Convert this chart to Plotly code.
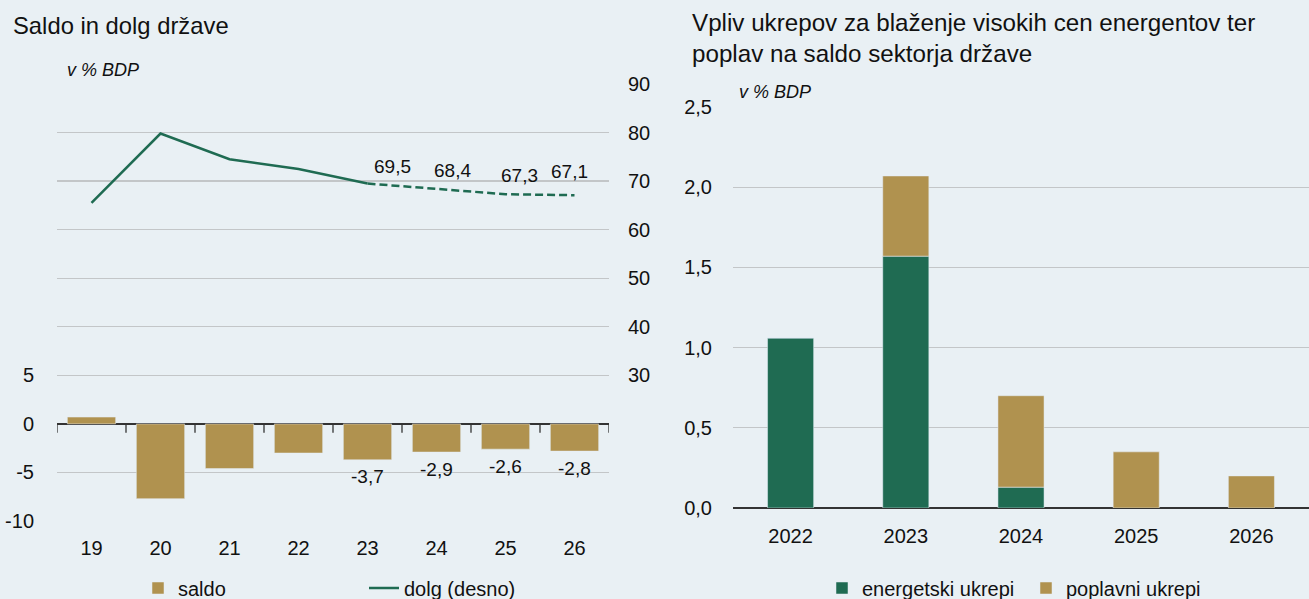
import plotly.graph_objects as go

# ---- data: left chart ----
years_l = ["19", "20", "21", "22", "23", "24", "25", "26"]
saldo = [0.7, -7.7, -4.6, -3.0, -3.7, -2.9, -2.6, -2.8]
dolg = [65.5, 79.8, 74.5, 72.5, 69.5, 68.4, 67.3, 67.1]
saldo_labels = {"23": "-3,7", "24": "-2,9", "25": "-2,6", "26": "-2,8"}
dolg_labels = {"23": "69,5", "24": "68,4", "25": "67,3", "26": "67,1"}

# ---- data: right chart ----
years_r = ["2022", "2023", "2024", "2025", "2026"]
energetski = [1.06, 1.57, 0.13, 0.0, 0.0]
poplavni = [0.0, 0.50, 0.57, 0.35, 0.20]

GREEN = "#1f6b52"
GOLD = "#b0924f"
BG = "#e9f0f4"
GRID = "#c3c6c8"
AXIS = "#333333"
FONT = "Liberation Sans, Arial, sans-serif"
W, H = 1309, 599


def px(x):
    return x / W


def py(y):
    return 1 - y / H


fig = go.Figure()

# left: saldo bars
fig.add_trace(go.Bar(x=years_l, y=saldo, name="saldo", marker_color=GOLD,
                     xaxis="x", yaxis="y", legend="legend", width=0.7))
# left: dolg line solid (actual) and dashed (projection)
split = years_l.index("23")
fig.add_trace(go.Scatter(x=years_l[:split + 1], y=dolg[:split + 1], mode="lines",
                         name="dolg (desno)", line=dict(color=GREEN, width=2.5),
                         xaxis="x", yaxis="y2", legend="legend"))
fig.add_trace(go.Scatter(x=years_l[split:], y=dolg[split:], mode="lines",
                         showlegend=False, line=dict(color=GREEN, width=2.5, dash="8px,4px"),
                         xaxis="x", yaxis="y2"))

# right: stacked bars
fig.add_trace(go.Bar(x=years_r, y=energetski, name="energetski ukrepi", marker_color=GREEN,
                     xaxis="x2", yaxis="y3", legend="legend2", width=0.4))
fig.add_trace(go.Bar(x=years_r, y=poplavni, name="poplavni ukrepi", marker_color=GOLD,
                     xaxis="x2", yaxis="y3", legend="legend2", width=0.4))

tickfont = dict(family=FONT, size=20, color="#111")

left_grid = list(range(-10, 40, 5))
fig.update_layout(
    width=W, height=H, barmode="relative",
    paper_bgcolor=BG, plot_bgcolor=BG,
    margin=dict(l=0, r=0, t=0, b=0, autoexpand=False),
    font=dict(family=FONT, size=20, color="#111"),
    hovermode=False,
    xaxis=dict(domain=[px(57), px(609)], anchor="y", type="category",
               range=[-0.5, len(years_l) - 0.5], automargin=False,
               showgrid=False, showline=False, ticks="", tickfont=tickfont,
               ticklabelstandoff=13, fixedrange=True),
    yaxis=dict(domain=[py(521), py(84)], range=[-10, 35], tickvals=left_grid,
               ticktext=[str(v) if v <= 5 else "" for v in left_grid], automargin=False,
               showgrid=True, gridcolor=GRID, gridwidth=1.3,
               zeroline=True, zerolinecolor=AXIS, zerolinewidth=1.5,
               tickfont=tickfont, ticks="", ticklabelstandoff=22),
    yaxis2=dict(overlaying="y", side="right", anchor="x", range=[0, 90], automargin=False,
                tickvals=[30, 40, 50, 60, 70, 80, 90], showgrid=False, zeroline=False,
                tickfont=tickfont, ticks="", ticklabelstandoff=18),
    xaxis2=dict(domain=[px(733), 1.0], anchor="y3", type="category",
                range=[-0.5, len(years_r) - 0.5], automargin=False,
                showgrid=False, showline=False, ticks="", tickfont=tickfont,
                ticklabelstandoff=14),
    yaxis3=dict(domain=[py(508), py(107)], anchor="x2", range=[0, 2.5], automargin=False,
                tickvals=[0, 0.5, 1.0, 1.5, 2.0, 2.5],
                ticktext=["0,0", "0,5", "1,0", "1,5", "2,0", "2,5"],
                showgrid=True, gridcolor=GRID, gridwidth=1.3,
                zeroline=True, zerolinecolor=AXIS, zerolinewidth=1.5,
                tickfont=tickfont, ticks="", ticklabelstandoff=20),
    legend=dict(orientation="h", x=px(138), y=py(588), yanchor="middle", xanchor="left",
                xref="container", yref="container",
                bgcolor="rgba(0,0,0,0)", font=dict(family=FONT, size=20),
                entrywidth=181, entrywidthmode="pixels", itemwidth=30,
                traceorder="normal"),
    legend2=dict(orientation="h", x=px(822), y=py(588), yanchor="middle", xanchor="left",
                 xref="container", yref="container",
                 bgcolor="rgba(0,0,0,0)", font=dict(family=FONT, size=20),
                 entrywidth=159, entrywidthmode="pixels", itemwidth=30,
                 traceorder="normal"),
    showlegend=True,
)

# category-boundary tick marks hanging below the zero lines
shapes = []
for i in range(len(years_l) + 1):
    shapes.append(dict(type="line", xref="x", yref="y", x0=i - 0.5, x1=i - 0.5,
                       y0=0, y1=-0.9, line=dict(color=AXIS, width=1.3)))
for i in range(len(years_r) + 1):
    shapes.append(dict(type="line", xref="x2", yref="y3", x0=i - 0.5, x1=i - 0.5,
                       y0=0, y1=-0.045, line=dict(color=AXIS, width=1.3)))
fig.update_layout(shapes=shapes)

ann = []
ann.append(dict(text="Saldo in dolg države", x=px(11), y=py(25), xref="paper", yref="paper",
                xanchor="left", yanchor="middle", showarrow=False,
                font=dict(family=FONT, size=23.8, color="#111")))
ann.append(dict(text="Vpliv ukrepov za blaženje visokih cen energentov ter<br>poplav na saldo sektorja države",
                x=px(690), y=py(38), xref="paper", yref="paper", xanchor="left", yanchor="middle",
                align="left", showarrow=False, font=dict(family=FONT, size=24.2, color="#111")))
ann.append(dict(text="<i>v % BDP</i>", x=px(65), y=py(70), xref="paper", yref="paper",
                xanchor="left", yanchor="middle", showarrow=False,
                font=dict(family=FONT, size=18, color="#111")))
ann.append(dict(text="<i>v % BDP</i>", x=px(737), y=py(92), xref="paper", yref="paper",
                xanchor="left", yanchor="middle", showarrow=False,
                font=dict(family=FONT, size=18, color="#111")))

dolg_shift = {"23": (25, 17), "24": (16, 18), "25": (14, 19), "26": (-5, 24)}
for yr, txt in dolg_labels.items():
    i = years_l.index(yr)
    dx, dy = dolg_shift[yr]
    ann.append(dict(text=txt, x=i, y=dolg[i], xref="x", yref="y2", showarrow=False,
                    xshift=dx, yshift=dy, font=dict(family=FONT, size=19, color="#111")))
for yr, txt in saldo_labels.items():
    i = years_l.index(yr)
    ann.append(dict(text=txt, x=i, y=saldo[i], xref="x", yref="y", showarrow=False,
                    yshift=-17, font=dict(family=FONT, size=19, color="#111")))
fig.update_layout(annotations=ann)

fig.write_html("out.html", config={"displayModeBar": False, "staticPlot": True},
               post_script="document.body.style.margin='0';document.body.style.overflow='hidden';")
